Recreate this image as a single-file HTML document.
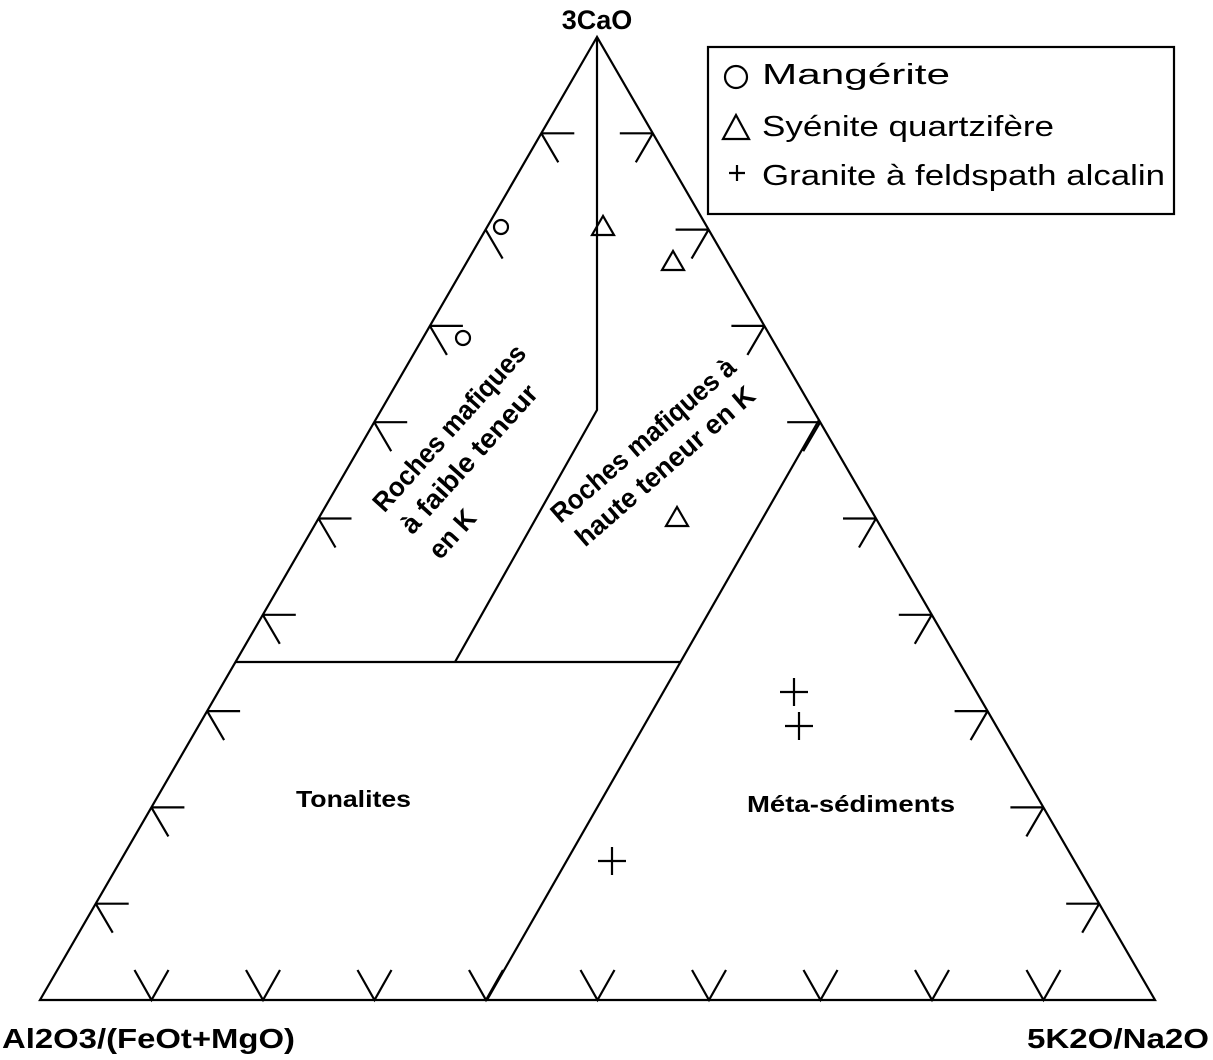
<!DOCTYPE html>
<html><head><meta charset="utf-8"><style>
html,body{margin:0;padding:0;background:#fff;}
svg{display:block;}
text{font-family:"Liberation Sans",sans-serif;fill:#000;}
</style></head><body>
<svg width="1213" height="1060" viewBox="0 0 1213 1060" xmlns="http://www.w3.org/2000/svg">
<g fill="none" stroke="#000" stroke-width="2.2">
<polygon points="597,37 40,1000 1155,1000"/>
<polyline points="597,37 597,410 455,662"/>
<line x1="235" y1="662" x2="680" y2="662"/>
<line x1="819" y1="420" x2="487" y2="1000"/>
<path d="M95.7,903.7h33M95.7,903.7l17,29
M151.4,807.4h33M151.4,807.4l17,29
M207.1,711.1h33M207.1,711.1l17,29
M262.8,614.8h33M262.8,614.8l17,29
M318.5,518.5h33M318.5,518.5l17,29
M374.2,422.2h33M374.2,422.2l17,29
M429.9,325.9h33M429.9,325.9l17,29
M485.6,229.6l17,29
M541.3,133.3h33M541.3,133.3l17,29"/>
<path d="M1099.2,903.7h-33M1099.2,903.7l-17,29
M1043.4,807.4h-33M1043.4,807.4l-17,29
M987.6,711.1h-33M987.6,711.1l-17,29
M931.8,614.8h-33M931.8,614.8l-17,29
M876,518.5h-33M876,518.5l-17,29
M820.2,422.2h-33M820.2,422.2l-17,29
M764.4,325.9h-33M764.4,325.9l-17,29
M708.6,229.6h-33M708.6,229.6l-17,29
M652.8,133.3h-33M652.8,133.3l-17,29"/>
<path d="M134.5,970L151.5,1000L168.5,970
M246,970L263,1000L280,970
M357.5,970L374.5,1000L391.5,970
M469,970L486,1000L503,970
M580.5,970L597.5,1000L614.5,970
M692,970L709,1000L726,970
M803.5,970L820.5,1000L837.5,970
M915,970L932,1000L949,970
M1026.5,970L1043.5,1000L1060.5,970"/>
<circle cx="501" cy="227" r="7"/>
<circle cx="463" cy="338" r="7"/>
<polygon points="603,216 592,235 614,235"/>
<polygon points="673,251 662,270 684,270"/>
<polygon points="677,507 666,526 688,526"/>
<path d="M780,692h28M794,678v28 M785,726h28M799,712v28 M598,861h28M612,847v28"/>
<rect x="708" y="47" width="466" height="167"/>
<circle cx="736" cy="77" r="11"/>
<polygon points="736,115 723,139 749,139"/>
<path d="M729,173h16M737,165v16"/>
</g>
<text x="597" y="29" font-size="27" font-weight="bold" text-anchor="middle">3CaO</text>
<text x="2" y="1048" font-size="28" font-weight="bold" textLength="293" lengthAdjust="spacingAndGlyphs">Al2O3/(FeOt+MgO)</text>
<text x="1027" y="1048" font-size="28" font-weight="bold" textLength="182" lengthAdjust="spacingAndGlyphs">5K2O/Na2O</text>
<text x="762" y="84" font-size="29" textLength="188" lengthAdjust="spacingAndGlyphs">Mangérite</text>
<text x="762" y="136" font-size="29" textLength="292" lengthAdjust="spacingAndGlyphs">Syénite quartzifère</text>
<text x="762" y="185" font-size="29" textLength="403" lengthAdjust="spacingAndGlyphs">Granite à feldspath alcalin</text>
<text x="296" y="807" font-size="23" font-weight="bold" textLength="115" lengthAdjust="spacingAndGlyphs">Tonalites</text>
<text x="747" y="812" font-size="23" font-weight="bold" textLength="208" lengthAdjust="spacingAndGlyphs">Méta-sédiments</text>
<g font-size="27" font-weight="bold" text-anchor="middle">
<text transform="translate(456,434) rotate(-48)" textLength="214" lengthAdjust="spacingAndGlyphs">Roches mafiques</text>
<text transform="translate(476,465) rotate(-48)" textLength="190" lengthAdjust="spacingAndGlyphs">à  faible teneur</text>
<text transform="translate(459,540) rotate(-48)" textLength="56" lengthAdjust="spacingAndGlyphs">en K</text>
<text transform="translate(649,447) rotate(-41)" textLength="235" lengthAdjust="spacingAndGlyphs">Roches mafiques à</text>
<text transform="translate(671,473) rotate(-41)" textLength="228" lengthAdjust="spacingAndGlyphs">haute teneur en K</text>
</g>
</svg>
</body></html>
